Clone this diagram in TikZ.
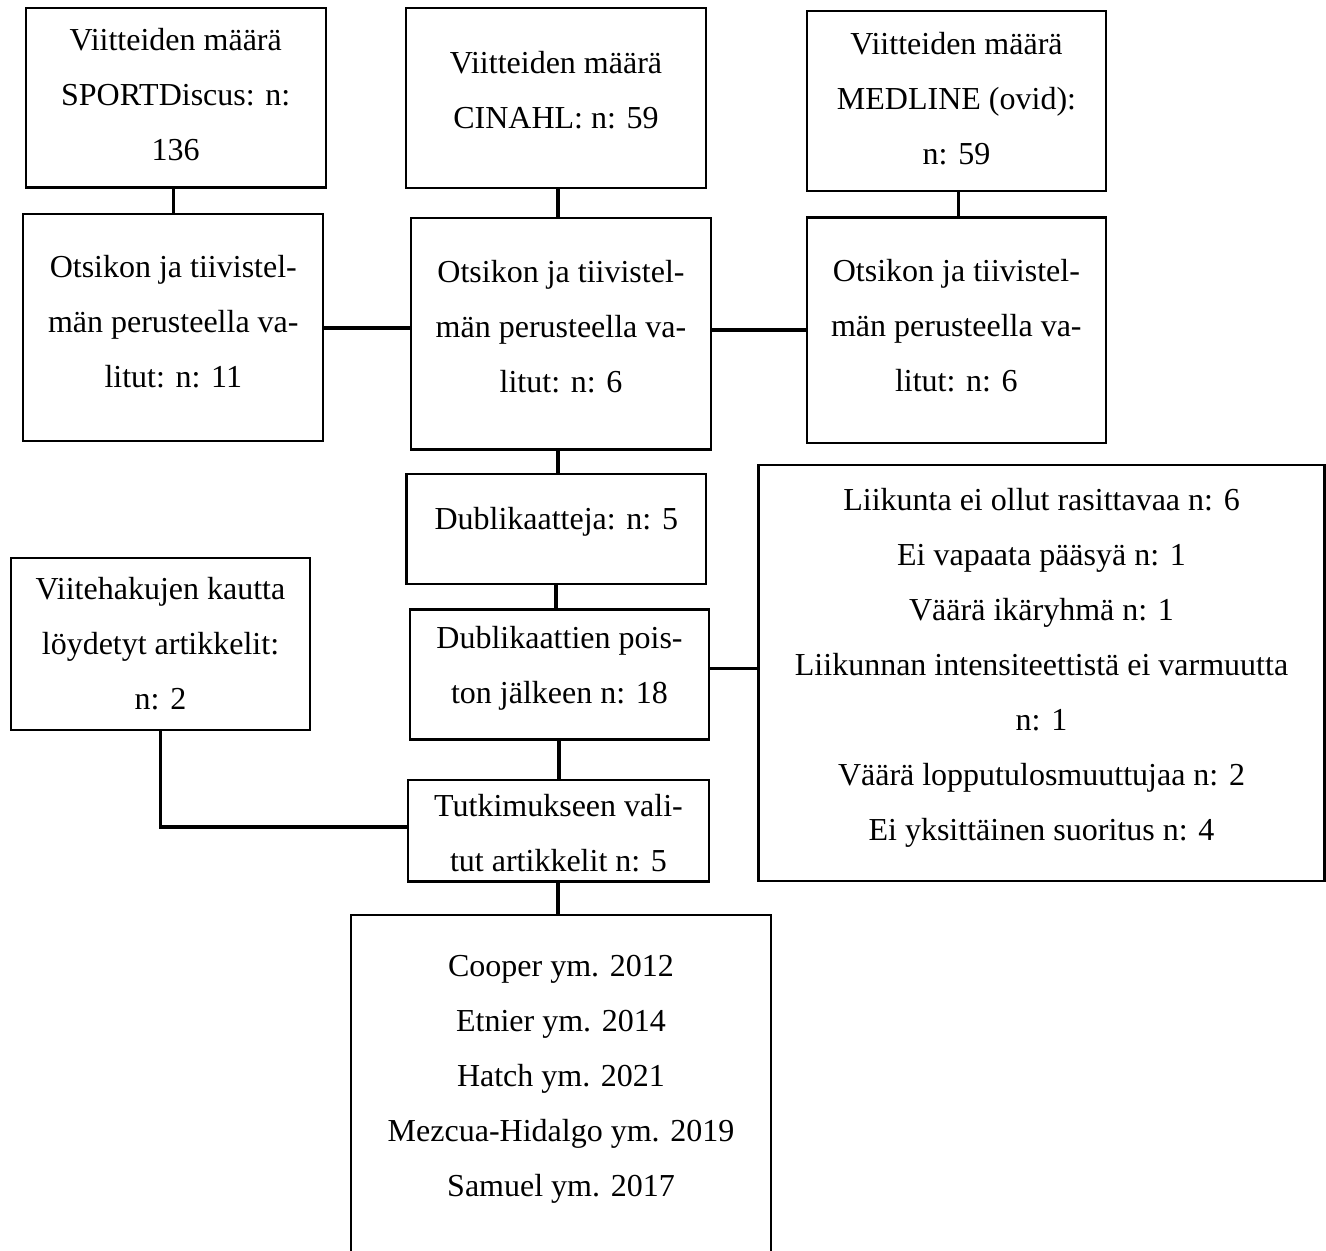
\documentclass[tikz,border=0pt]{standalone}
\usepackage{fontspec}
\setmainfont{Liberation Serif}
\begin{document}
\begin{tikzpicture}[x=0.5pt,y=-0.5pt,
  box/.style={draw=black,line width=1.1pt,rectangle,inner sep=0pt,outer sep=0pt},
  txt/.style={align=center,inner sep=0pt,font=\fontsize{16}{27.5}\selectfont},
  conn/.style={draw=black,line width=1.8pt}]
\useasboundingbox (0,0) rectangle (1326,1250);
% boxes
\node[box,minimum width=300pt*0.5,minimum height=179.5pt*0.5] (A) at (175.7,97.75) {};
\node[box,minimum width=300pt*0.5,minimum height=180pt*0.5] (B) at (556,98) {};
\node[box,minimum width=299.6pt*0.5,minimum height=179.7pt*0.5] (C) at (956.5,100.85) {};
\node[box,minimum width=300pt*0.5,minimum height=227pt*0.5] (D) at (173.3,327.5) {};
\node[box,minimum width=300pt*0.5,minimum height=231.5pt*0.5] (E) at (561,333.75) {};
\node[box,minimum width=299.3pt*0.5,minimum height=225.5pt*0.5] (F) at (956.35,330.25) {};
\node[box,minimum width=299.5pt*0.5,minimum height=110pt*0.5] (G) at (556.25,529) {};
\node[box,minimum width=299pt*0.5,minimum height=130pt*0.5] (H) at (559.5,674.5) {};
\node[box,minimum width=301pt*0.5,minimum height=101.5pt*0.5] (I) at (558.5,830.75) {};
\node[box,minimum width=299pt*0.5,minimum height=172pt*0.5] (J) at (160.5,644) {};
\node[box,minimum width=566pt*0.5,minimum height=416pt*0.5] (K) at (1041.5,673) {};
\node[box,minimum width=420pt*0.5,minimum height=350pt*0.5] (L) at (561,1090) {};
% texts
\node[txt] (tA) at (175.7,95) {Viitteiden määrä\\SPORTDiscus: n:\\136};
\node[txt] (tB) at (556,90) {Viitteiden määrä\\CINAHL: n: 59};
\node[txt] (tC) at (956.5,98.5) {Viitteiden määrä\\MEDLINE (ovid):\\n: 59};
\node[txt] (tD) at (173.3,322) {Otsikon ja tiivistel-\\män perusteella va-\\litut: n: 11};
\node[txt] (tE) at (561,327) {Otsikon ja tiivistel-\\män perusteella va-\\litut: n: 6};
\node[txt] (tF) at (956.35,325.5) {Otsikon ja tiivistel-\\män perusteella va-\\litut: n: 6};
\node[txt] (tG) at (556.25,522) {Dublikaatteja: n: 5};
\node[txt] (tH) at (559.5,668.5) {Dublikaattien pois-\\ton jälkeen n: 18};
\node[txt] (tI) at (558.5,833) {Tutkimukseen vali-\\tut artikkelit n: 5};
\node[txt] (tJ) at (160.5,644) {Viitehakujen kautta\\löydetyt artikkelit:\\n: 2};
\node[txt] (tK) at (1041.5,667.5) {Liikunta ei ollut rasittavaa n: 6\\Ei vapaata pääsyä n: 1\\Väärä ikäryhmä n: 1\\Liikunnan intensiteettistä ei varmuutta\\n: 1\\Väärä lopputulosmuuttujaa n: 2\\Ei yksittäinen suoritus n: 4};
\node[txt] (tL) at (561,1079) {Cooper ym. 2012\\Etnier ym. 2014\\Hatch ym. 2021\\Mezcua-Hidalgo ym. 2019\\Samuel ym. 2017};
% connectors
\coordinate (ad) at (173.3,0);
\draw[conn] (A.south -| ad) -- (D.north -| ad);
\coordinate (be) at (558,0);
\draw[conn] (B.south -| be) -- (E.north -| be);
\coordinate (cf) at (958.3,0);
\draw[conn] (C.south -| cf) -- (F.north -| cf);
\coordinate (de) at (0,328);
\draw[conn] (D.east |- de) -- (E.west |- de);
\coordinate (ef) at (0,330);
\draw[conn] (E.east |- ef) -- (F.west |- ef);
\coordinate (eg) at (558,0);
\draw[conn] (E.south -| eg) -- (G.north -| eg);
\coordinate (gh) at (556,0);
\draw[conn] (G.south -| gh) -- (H.north -| gh);
\coordinate (hi) at (559,0);
\draw[conn] (H.south -| hi) -- (I.north -| hi);
\coordinate (il) at (558,0);
\draw[conn] (I.south -| il) -- (L.north -| il);
\coordinate (hk) at (0,668.5);
\draw[conn] (H.east |- hk) -- (K.west |- hk);
\coordinate (ji) at (0,827);
\draw[conn] (J.south) |- (I.west |- ji);
\end{tikzpicture}
\end{document}
